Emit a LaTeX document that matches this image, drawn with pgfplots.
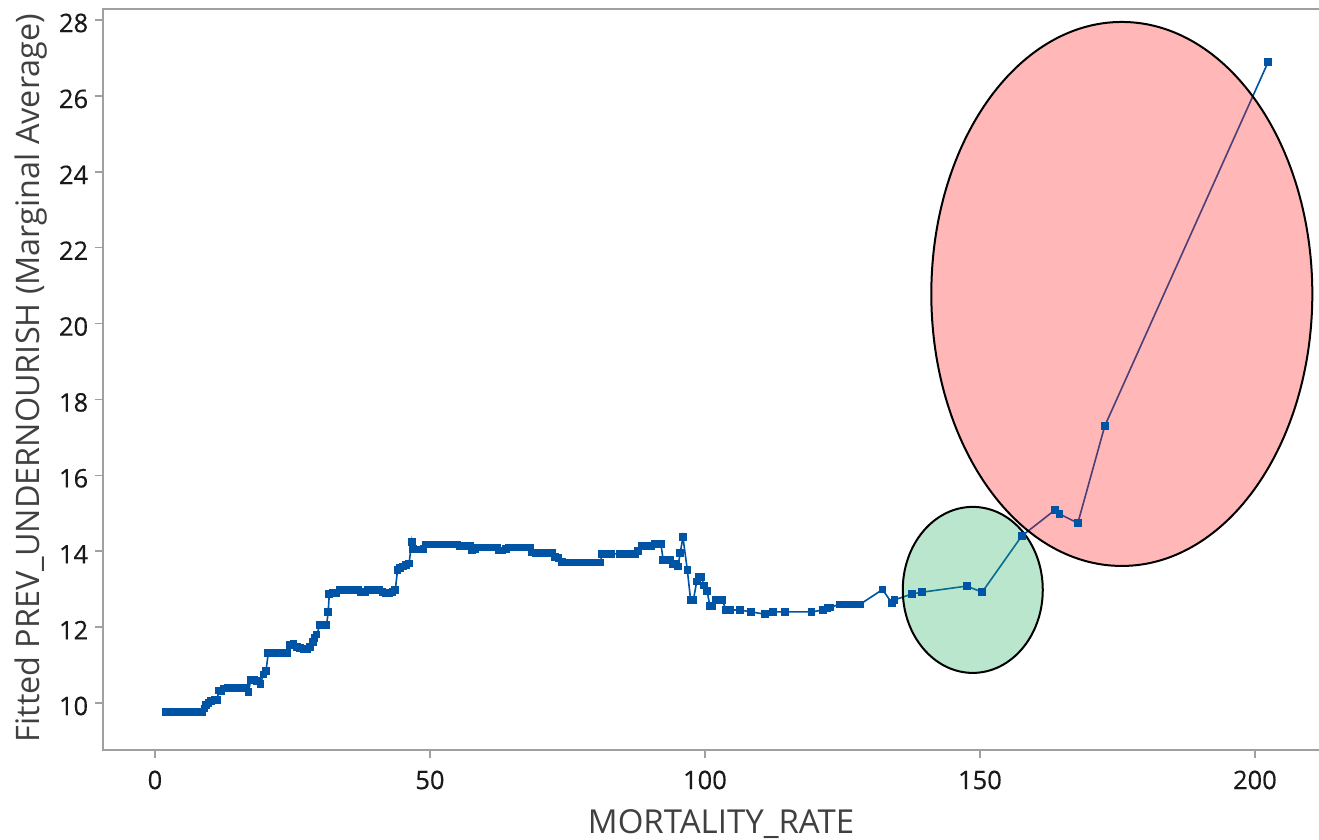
\documentclass[border=0pt]{standalone}
\usepackage{pgfplots}
\pgfplotsset{compat=1.18}
\usepackage{pgfplotstable}
\usepackage{fontspec}
\setmainfont{Open Sans}
\newfontfamily\tickfont[FakeBold=0.4]{Open Sans}
\definecolor{lineblue}{RGB}{0,84,166}
\definecolor{axgray}{RGB}{160,160,160}
\definecolor{ticktext}{RGB}{25,25,25}
\definecolor{labtext}{RGB}{64,64,64}
\definecolor{ellred}{RGB}{255,18,18}
\definecolor{ellgreen}{RGB}{28,172,88}

\pgfplotstableread{
x y
2.0 9.76
2.6 9.76
3.2 9.76
3.8 9.76
4.4 9.76
5.0 9.76
5.6 9.76
6.2 9.76
6.8 9.76
7.4 9.76
8.0 9.76
8.6 9.76
9.0 9.85
9.3 9.95
9.7 10.00
10.2 10.05
10.8 10.08
11.3 10.08
11.6 10.33
12.0 10.30
12.5 10.38
13.2 10.39
13.9 10.39
14.6 10.39
15.3 10.39
16.0 10.39
16.6 10.39
17.0 10.29
17.4 10.60
18.0 10.60
18.6 10.58
19.2 10.50
19.7 10.75
20.2 10.85
20.6 11.32
21.2 11.32
21.9 11.32
22.6 11.32
23.3 11.32
24.0 11.32
24.5 11.53
25.2 11.55
25.8 11.48
26.4 11.45
27.0 11.43
27.6 11.43
28.2 11.48
28.7 11.60
29.0 11.72
29.4 11.80
30.0 12.05
30.6 12.05
31.2 12.05
31.5 12.40
31.7 12.88
32.3 12.90
32.9 12.90
33.6 12.97
34.3 12.98
35.0 12.98
35.7 12.98
36.4 12.98
37.0 12.98
37.5 12.92
38.2 12.92
38.7 12.98
39.4 12.98
40.1 12.98
40.8 12.98
41.4 12.92
42.0 12.90
42.6 12.90
43.2 12.92
43.7 12.98
44.1 13.50
44.6 13.55
45.1 13.60
45.6 13.63
46.2 13.68
46.7 14.25
46.9 14.05
47.5 14.04
48.2 14.04
48.8 14.05
49.2 14.18
49.8 14.18
50.4 14.18
51.0 14.18
51.6 14.18
52.2 14.18
52.8 14.18
53.4 14.18
54.0 14.18
54.6 14.18
55.0 14.18
55.4 14.14
56.0 14.14
56.7 14.14
57.3 14.14
57.6 14.02
58.2 14.05
58.6 14.10
59.3 14.10
60.0 14.10
60.7 14.10
61.4 14.10
62.2 14.10
62.6 14.02
63.2 14.02
63.8 14.05
64.3 14.10
65.0 14.10
65.7 14.10
66.4 14.10
67.1 14.10
67.7 14.10
68.2 14.10
68.6 13.97
69.2 13.95
69.9 13.95
70.6 13.95
71.4 13.95
72.2 13.95
72.7 13.85
73.4 13.82
74.0 13.72
74.6 13.70
75.5 13.70
76.2 13.70
77.0 13.70
77.8 13.70
78.6 13.70
79.4 13.70
80.2 13.70
81.0 13.70
81.3 13.93
82.2 13.92
83.0 13.93
84.5 13.93
85.2 13.93
85.9 13.93
86.6 13.93
87.3 13.93
87.8 14.00
88.5 14.14
89.1 14.14
89.7 14.14
90.3 14.14
90.8 14.19
91.4 14.19
92.0 14.19
92.4 13.77
93.0 13.76
93.6 13.76
94.1 13.66
94.7 13.66
95.1 13.60
95.5 13.95
96.0 14.37
96.8 13.50
97.4 12.71
97.9 12.71
98.5 13.20
98.9 13.32
99.4 13.32
99.8 13.10
100.4 12.95
100.9 12.55
101.4 12.55
102.0 12.71
102.6 12.71
103.2 12.71
103.8 12.45
104.5 12.45
106.4 12.45
108.4 12.40
110.9 12.34
112.4 12.40
114.5 12.40
119.4 12.40
121.5 12.45
122.3 12.50
122.8 12.52
124.5 12.60
125.2 12.60
125.9 12.60
126.6 12.60
127.3 12.60
128.2 12.60
132.3 12.99
134.0 12.63
134.5 12.72
137.6 12.87
139.5 12.92
147.6 13.08
150.4 12.92
157.6 14.40
163.6 15.08
164.5 14.98
167.8 14.74
172.7 17.30
202.4 26.89
}\fitted

\begin{document}
\begin{tikzpicture}
\useasboundingbox (-41.2pt,-35.6pt) rectangle (486.4pt,300pt);
\begin{axis}[
  scale only axis,
  width=487.6pt, height=296.4pt,
  xmin=-9.45, xmax=212.2,
  ymin=8.76, ymax=28.29,
  xtick={0,50,100,150,200},
  ytick={10,12,14,16,18,20,22,24,26,28},
  tick align=outside,
  tick pos=left,
  major tick length=3.2pt,
  axis line style={draw=axgray, line width=0.6pt},
  every tick/.style={draw=axgray, line width=0.6pt},
  /pgf/number format/assume math mode=true,
  tick label style={font=\tickfont\fontsize{10.2}{12}\selectfont, text=ticktext},
  xticklabel style={yshift=-1.5pt},
  yticklabel style={yshift=-1.2pt, xshift=0.8pt},
  xlabel={MORTALITY\_RATE},
  ylabel={Fitted PREV\_UNDERNOURISH (Marginal Average)},
  label style={font=\fontsize{13.2}{15}\selectfont, text=labtext},
  xlabel style={at={(axis description cs:0.507,0)}, anchor=base, yshift=-33.4pt},
  ylabel style={at={(axis description cs:0,0.502)}, anchor=base, yshift=25.2pt, font=\fontsize{12.95}{15}\selectfont},
  clip=false,
]
\addplot[color=lineblue, line width=0.65pt, mark=square*, mark size=1.2pt, mark options={solid, fill=lineblue, draw=lineblue}] table[x=x,y=y] {\fitted};
\draw[black, line width=0.8pt, fill=ellred, fill opacity=0.3, draw opacity=1] (axis cs:175.8,20.78) ellipse [x radius=76.2pt, y radius=108.8pt];
\draw[black, line width=0.8pt, fill=ellgreen, fill opacity=0.3, draw opacity=1] (axis cs:148.7,12.98) ellipse [x radius=28pt, y radius=33.2pt];
\end{axis}
\end{tikzpicture}
\end{document}
